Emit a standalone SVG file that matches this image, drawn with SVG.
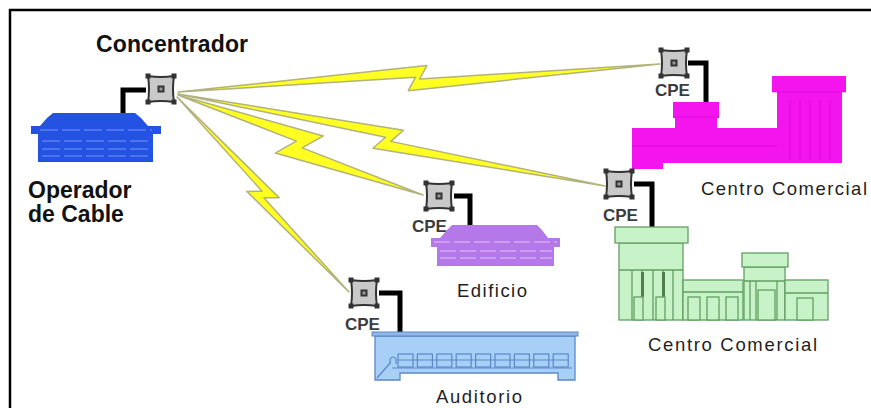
<svg xmlns="http://www.w3.org/2000/svg" width="871" height="408" viewBox="0 0 871 408">
  <style>
    .frame{fill:none;stroke:#000;stroke-width:2.5}
    .bolt{fill:#ffff22;stroke:#b2b27c;stroke-width:1.5;stroke-linejoin:round}
    .cable{fill:none;stroke:#000;stroke-width:5;stroke-linejoin:miter}
    .head{font-family:"Liberation Sans",Arial,sans-serif;font-weight:bold;font-size:23px;fill:#111}
    .cpe{font-family:"Liberation Sans",Arial,sans-serif;font-weight:bold;font-size:17px;fill:#3c3c3c}
    .name{font-family:"Liberation Sans",Arial,sans-serif;font-size:18.5px;fill:#1e1e1e}
    .blue{fill:#2453e3}
    .blue-line{fill:none;stroke:#5b80f2;stroke-width:1.6;stroke-dasharray:18 4}
    .violet{fill:#b478e8}
    .violet-line{fill:none;stroke:#d3a9f6;stroke-width:1.5;stroke-dasharray:16 4}
    .magenta{fill:#f414ee}
    .magenta-line{fill:none;stroke:#cc00cc;stroke-width:1;opacity:.55}
    .green{fill:#c8f3c8;stroke:#639e63;stroke-width:1.3}
    .green-line{fill:none;stroke:#639e63;stroke-width:1.3}
    .green-bar{fill:#4f7f4f}
    .sky{fill:#a8d0f7;stroke:#5b87c8;stroke-width:1.3}
    .sky-line{fill:none;stroke:#5b87c8;stroke-width:1.2}
  </style>
  <defs>
    <!-- network box: grey pad with dark corner clips and a centre port -->
    <g id="box">
      <path d="M-13,-13 Q0,-11 13,-13 Q11,0 13,13 Q0,11 -13,13 Q-11,0 -13,-13Z" fill="#c9c9c9" stroke="#333" stroke-width="2"/>
      <rect x="-15.5" y="-15.5" width="5" height="5" fill="#333"/>
      <rect x="10.5" y="-15.5" width="5" height="5" fill="#333"/>
      <rect x="-15.5" y="10.5" width="5" height="5" fill="#333"/>
      <rect x="10.5" y="10.5" width="5" height="5" fill="#333"/>
      <rect x="-3.5" y="-3.5" width="7" height="7" fill="#333"/>
      <rect x="-1.5" y="-1.5" width="3" height="3" fill="#999"/>
    </g>
  </defs>

  <rect width="871" height="408" fill="#fff"/>
  <path class="frame" d="M10,408 V10 H871"/>

  <!-- wireless links (lightning bolts) from the hub -->
  <g id="connectors">
    <polygon class="bolt" transform="translate(178 92) rotate(-3.32)" points="0,0 250,-12 242,1 482.8,0 230,12 238,-1"/>
    <polygon class="bolt" transform="translate(178 94) rotate(12.16)" points="0,0 228,-12 218,1.5 436.8,0 202,12 212,-1.5"/>
    <polygon class="bolt" transform="translate(178 95) rotate(22.2)" points="0,0 150,-17 135,2 264.6,0 112,17 127,-2"/>
    <polygon class="bolt" transform="translate(177 97) rotate(48.6)" points="0,0 143,-10 133,1.5 260,0 117,10 127,-1.5"/>
  </g>

  <!-- hub -->
  <g id="concentrador">
    <polyline class="cable" points="146,90 123,90 123,114"/>
    <use href="#box" transform="translate(161 89)"/>
    <text class="head" x="96" y="52" textLength="152">Concentrador</text>
  </g>

  <!-- cable operator head-end -->
  <g id="operador">
    <path class="blue" d="M53,113 H135 L141,118 H47 Z"/>
    <path class="blue" d="M47,118 H141 L148,126 H40 Z"/>
    <rect class="blue" x="31" y="126" width="130" height="8"/>
    <rect class="blue" x="38" y="134" width="115" height="28"/>
    <line class="blue-line" x1="40" y1="130" x2="152" y2="130"/>
    <line class="blue-line" x1="42" y1="141" x2="150" y2="141"/>
    <line class="blue-line" x1="42" y1="149" x2="150" y2="149"/>
    <line class="blue-line" x1="42" y1="156" x2="150" y2="156"/>
    <text class="head" x="28" y="198">Operador</text>
    <text class="head" x="28" y="222">de Cable</text>
  </g>

  <!-- shopping centre, top right -->
  <g id="centro-comercial-1">
    <polyline class="cable" points="688,63 706,63 706,103"/>
    <use href="#box" transform="translate(674 63)"/>
    <text class="cpe" x="655" y="96">CPE</text>
    <rect class="magenta" x="632" y="128" width="146" height="35"/>
    <rect class="magenta" x="632" y="162" width="31" height="7"/>
    <rect class="magenta" x="675" y="117" width="42" height="12"/>
    <rect class="magenta" x="673" y="102" width="46" height="16"/>
    <rect class="magenta" x="777" y="91" width="65" height="72"/>
    <rect class="magenta" x="772" y="76" width="74" height="16"/>
    <path class="magenta-line" d="M673,117 H719 M772,92 H846 M632,146 H777 M790,100 V160 M800,100 V160 M810,100 V160 M820,100 V160 M830,100 V160"/>
    <text class="name" x="701" y="195" textLength="166">Centro Comercial</text>
  </g>

  <!-- office building -->
  <g id="edificio">
    <polyline class="cable" points="454,196 470,196 470,227"/>
    <use href="#box" transform="translate(439 196)"/>
    <text class="cpe" x="412" y="232">CPE</text>
    <path class="violet" d="M452,225 H537 L542,230 H447 Z"/>
    <path class="violet" d="M447,230 H542 L548,238 H440 Z"/>
    <rect class="violet" x="431" y="238" width="129" height="9"/>
    <rect class="violet" x="437" y="247" width="117" height="19"/>
    <line class="violet-line" x1="434" y1="242" x2="557" y2="242"/>
    <line class="violet-line" x1="440" y1="251" x2="552" y2="251"/>
    <line class="violet-line" x1="440" y1="258" x2="552" y2="258"/>
    <text class="name" x="457" y="297" textLength="70">Edificio</text>
  </g>

  <!-- shopping centre, lower right -->
  <g id="centro-comercial-2">
    <polyline class="cable" points="634,184 652,184 652,227"/>
    <use href="#box" transform="translate(619 184)"/>
    <text class="cpe" x="603" y="221">CPE</text>
    <!-- left tower -->
    <rect class="green" x="619" y="243" width="64" height="77"/>
    <rect class="green" x="615" y="227" width="73" height="16"/>
    <path class="green-line" d="M619,270 H683 M632,270 V320 M642,270 V320 M653,270 V320 M663,270 V320 M673,270 V320"/>
    <rect class="green-bar" x="641" y="272" width="3" height="25"/>
    <rect class="green-bar" x="662" y="272" width="3" height="25"/>
    <rect class="green" x="634" y="297" width="9" height="23"/>
    <rect class="green" x="656" y="297" width="9" height="23"/>
    <!-- low middle wing -->
    <rect class="green" x="683" y="280" width="60" height="40"/>
    <path class="green-line" d="M683,292 H743"/>
    <rect class="green" x="688" y="297" width="12" height="23"/>
    <rect class="green" x="707" y="297" width="12" height="23"/>
    <rect class="green" x="726" y="297" width="12" height="23"/>
    <!-- right tower -->
    <rect class="green" x="744" y="267" width="41" height="53"/>
    <rect class="green" x="742" y="253" width="46" height="14"/>
    <path class="green-line" d="M744,281 H785 M750,281 V320 M756,281 V320 M777,281 V320"/>
    <rect class="green" x="758" y="290" width="17" height="30"/>
    <!-- far right wing -->
    <rect class="green" x="785" y="280" width="43" height="40"/>
    <path class="green-line" d="M785,293 H828"/>
    <rect class="green" x="797" y="298" width="16" height="22"/>
    <text class="name" x="648" y="351" textLength="169">Centro Comercial</text>
  </g>

  <!-- auditorium -->
  <g id="auditorio">
    <polyline class="cable" points="379,293 400,293 400,334"/>
    <use href="#box" transform="translate(364 293)"/>
    <text class="cpe" x="345" y="330">CPE</text>
    <path class="sky" d="M375,336 H575 V380 H558 V373 H400 V380 H375 Z"/>
    <rect x="372" y="332" width="206" height="4" fill="#8fb8e8" stroke="#5b87c8" stroke-width="1"/>
    <path class="sky-line" d="M377,378 L391,362 M390,364 V359 Q393,355 396,359 V364 M392,368 H572"/>
    <g class="sky-line">
      <rect x="398" y="354" width="15" height="13"/>
      <rect x="417.4" y="354" width="15" height="13"/>
      <rect x="436.8" y="354" width="15" height="13"/>
      <rect x="456.2" y="354" width="15" height="13"/>
      <rect x="475.6" y="354" width="15" height="13"/>
      <rect x="495" y="354" width="15" height="13"/>
      <rect x="514.4" y="354" width="15" height="13"/>
      <rect x="533.8" y="354" width="15" height="13"/>
      <rect x="553.2" y="354" width="15" height="13"/>
      <path d="M398,360 H568"/>
    </g>
    <text class="name" x="436" y="403" textLength="86">Auditorio</text>
  </g>
</svg>
